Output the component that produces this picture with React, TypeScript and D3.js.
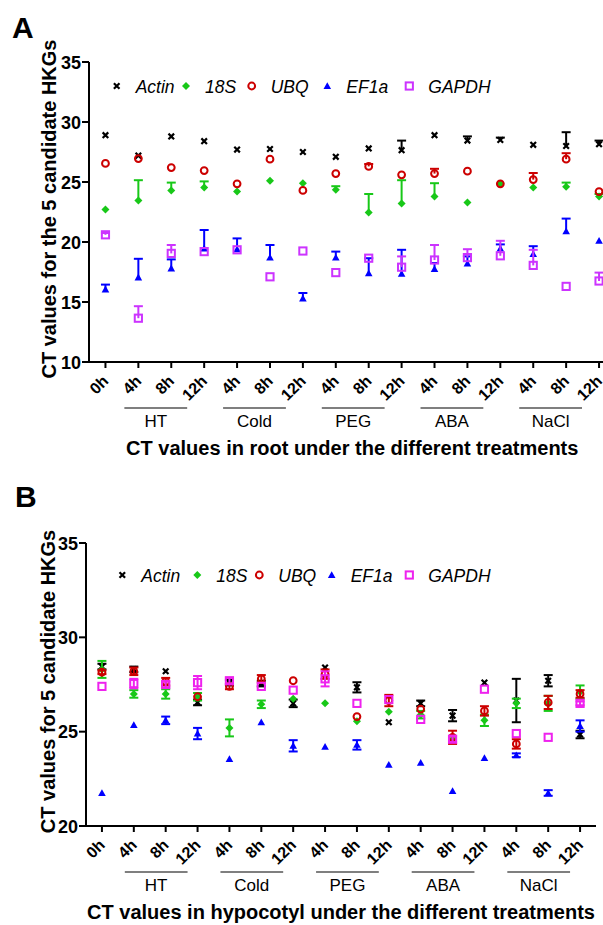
import { useEffect, useRef } from "react";
import * as d3 from "d3";

const TIME_LABELS = ["0h", "4h", "8h", "12h", "4h", "8h", "12h", "4h", "8h", "12h", "4h", "8h", "12h", "4h", "8h", "12h"];
const TREATMENTS = ["HT", "Cold", "PEG", "ABA", "NaCl"];
const GENES = ["Actin", "18S", "UBQ", "EF1a", "GAPDH"];

// A: root
const ROOT_ACTIN = [28.9, 27.2, 28.8, 28.4, 27.7, 27.75, 27.5, 27.1, 27.8, 27.65, 28.9, 28.45, 28.5, 28.1, 28.0, 28.15];
const ROOT_ACTIN_SD = [0, 0, 0, 0, 0, 0, 0, 0, 0, 0.8, 0, 0.35, 0.2, 0, 1.15, 0.3];
const ROOT_18S = [22.7, 23.45, 24.3, 24.55, 24.2, 25.1, 24.9, 24.35, 22.45, 23.2, 23.8, 23.3, 24.85, 24.55, 24.6, 23.8];
const ROOT_18S_SD = [0, 1.7, 0.65, 0.5, 0, 0, 0, 0.3, 1.55, 1.95, 1.1, 0, 0, 0, 0.35, 0.2];
const ROOT_UBQ = [26.55, 26.95, 26.2, 25.95, 24.85, 26.9, 24.3, 25.7, 26.3, 25.6, 25.7, 25.9, 24.85, 25.2, 26.9, 24.2];
const ROOT_UBQ_SD = [0, 0, 0, 0, 0, 0, 0, 0, 0.2, 0, 0.4, 0, 0, 0.55, 0.5, 0];
const ROOT_EF1A = [16.05, 17.05, 17.8, 19.45, 19.4, 18.7, 15.3, 18.7, 17.4, 17.35, 17.75, 18.2, 19.45, 19.0, 20.9, 20.1];
const ROOT_EF1A_SD = [0.4, 1.55, 0.75, 1.55, 0.9, 1.05, 0.45, 0.5, 1.25, 2.0, 0.5, 0.6, 0.35, 0.65, 1.05, 0];
const ROOT_GAPDH = [20.6, 13.65, 19.05, 19.2, 19.35, 17.1, 19.25, 17.45, 18.65, 17.9, 18.5, 18.7, 18.85, 18.05, 16.3, 16.75];
const ROOT_GAPDH_SD = [0.15, 1.0, 0.7, 0, 0, 0, 0, 0, 0, 0.9, 1.25, 0.7, 1.25, 1.3, 0, 0.7];

// B: hypocotyl
const HYP_ACTIN = [28.45, 28.3, 28.2, 26.55, 27.6, 27.55, 26.5, 28.4, 27.35, 25.5, 26.5, 25.85, 27.6, 26.65, 27.7, 24.85];
const HYP_ACTIN_SD = [0.15, 0.15, 0, 0.15, 0.15, 0.15, 0.2, 0, 0.27, 0, 0.15, 0.3, 0, 1.15, 0.3, 0.2];
const HYP_18S = [28.3, 27.0, 27.0, 26.85, 25.2, 26.45, 26.75, 26.5, 25.55, 26.05, 25.9, 24.6, 25.6, 26.5, 26.5, 27.1];
const HYP_18S_SD = [0.45, 0.2, 0.25, 0.2, 0.45, 0.2, 0, 0, 0, 0, 0.2, 0, 0.3, 0.25, 0.4, 0.35];
const HYP_UBQ = [28.15, 28.2, 27.65, 26.85, 27.4, 27.8, 27.7, 28.05, 25.8, 26.65, 26.2, 24.7, 26.1, 24.35, 26.55, 27.0];
const HYP_UBQ_SD = [0.1, 0.2, 0.2, 0, 0.15, 0.2, 0, 0.25, 0, 0.3, 0, 0.35, 0.25, 0.25, 0.35, 0.2];
const HYP_EF1A = [21.75, 25.35, 25.6, 24.9, 23.55, 25.5, 24.25, 24.2, 24.3, 23.25, 23.35, 21.85, 23.6, 23.75, 21.75, 25.3];
const HYP_EF1A_SD = [0, 0, 0.2, 0.3, 0, 0, 0.3, 0, 0.25, 0, 0, 0, 0, 0.1, 0.15, 0.3];
const HYP_GAPDH = [27.4, 27.55, 27.5, 27.6, 27.7, 27.4, 27.2, 27.8, 26.5, 26.7, 25.65, 24.6, 27.25, 24.9, 24.7, 26.5];
const HYP_GAPDH_SD = [0, 0.25, 0.15, 0.35, 0.15, 0, 0, 0.4, 0, 0, 0, 0.15, 0, 0, 0, 0.1];

const ROOT_TICKS = [10, 15, 20, 25, 30, 35];
const HYP_TICKS = [20, 25, 30, 35];

const FONT = "'Liberation Sans', Arial, Helvetica, sans-serif";

type Panel = {
  letter: string;
  letterX: number;
  letterY: number;
  series: { gene: string; mean: number[]; sd: number[] }[];
  yDomain: [number, number];
  yTicks: number[];
  xRange: [number, number];
  yRange: [number, number];
  errDir: "up" | "both";
  yTitle: string;
  yTitleX: number;
  xTitle: string;
  legendY: number;
  legendX: number[];
  lineOff: [number, number];
  magenta: string;
};

const PANELS: Panel[] = [
  {
    letter: "A", letterX: 12, letterY: 38,
    series: [
      { gene: "Actin", mean: ROOT_ACTIN, sd: ROOT_ACTIN_SD },
      { gene: "18S", mean: ROOT_18S, sd: ROOT_18S_SD },
      { gene: "UBQ", mean: ROOT_UBQ, sd: ROOT_UBQ_SD },
      { gene: "EF1a", mean: ROOT_EF1A, sd: ROOT_EF1A_SD },
      { gene: "GAPDH", mean: ROOT_GAPDH, sd: ROOT_GAPDH_SD },
    ],
    yDomain: [10, 35], yTicks: ROOT_TICKS,
    xRange: [89, 615.5], yRange: [362, 62],
    errDir: "up",
    yTitle: "CT values for the 5 candidate HKGs", yTitleX: 56,
    xTitle: "CT values in root under the different treatments",
    legendY: 86, legendX: [116.7, 186, 251.7, 327.3, 409.3],
    lineOff: [-14, -17],
    magenta: "#cc33ff",
  },
  {
    letter: "B", letterX: 15, letterY: 507,
    series: [
      { gene: "Actin", mean: HYP_ACTIN, sd: HYP_ACTIN_SD },
      { gene: "18S", mean: HYP_18S, sd: HYP_18S_SD },
      { gene: "UBQ", mean: HYP_UBQ, sd: HYP_UBQ_SD },
      { gene: "EF1a", mean: HYP_EF1A, sd: HYP_EF1A_SD },
      { gene: "GAPDH", mean: HYP_GAPDH, sd: HYP_GAPDH_SD },
    ],
    yDomain: [20, 35], yTicks: HYP_TICKS,
    xRange: [86, 596], yRange: [826, 543],
    errDir: "both",
    yTitle: "CT values for 5 candidate HKGs", yTitleX: 55,
    xTitle: "CT values in hypocotyl under the different treatments",
    legendY: 575, legendX: [122.3, 197.3, 259.3, 331.7, 409.3],
    lineOff: [-9, -10],
    magenta: "#ee22ee",
  },
];

const COLORS: Record<string, string> = {
  Actin: "#000000",
  "18S": "#18c818",
  UBQ: "#cc0000",
  EF1a: "#0000ff",
};

function drawMarker(g: d3.Selection<SVGGElement, unknown, null, undefined>, gene: string, x: number, y: number, magenta: string) {
  if (gene === "Actin") {
    g.append("path")
      .attr("d", `M${x - 2.8},${y - 2.8}L${x + 2.8},${y + 2.8}M${x - 2.8},${y + 2.8}L${x + 2.8},${y - 2.8}`)
      .attr("stroke", COLORS.Actin).attr("stroke-width", 2.2).attr("fill", "none");
  } else if (gene === "18S") {
    g.append("path")
      .attr("d", `M${x},${y - 4}L${x + 4},${y}L${x},${y + 4}L${x - 4},${y}Z`)
      .attr("fill", COLORS["18S"]);
  } else if (gene === "UBQ") {
    g.append("circle")
      .attr("cx", x).attr("cy", y).attr("r", 3.4)
      .attr("fill", "none").attr("stroke", COLORS.UBQ).attr("stroke-width", 2);
  } else if (gene === "EF1a") {
    g.append("path")
      .attr("d", `M${x},${y - 3.8}L${x + 3.8},${y + 3}L${x - 3.8},${y + 3}Z`)
      .attr("fill", COLORS.EF1a);
  } else {
    g.append("rect")
      .attr("x", x - 3.6).attr("y", y - 3.6).attr("width", 7.2).attr("height", 7.2)
      .attr("fill", "none").attr("stroke", magenta).attr("stroke-width", 2);
  }
}

function drawPanel(svgEl: SVGSVGElement, p: Panel) {
  const svg = d3.select(svgEl);
  const g = svg.append("g");

  const x = d3.scaleBand<number>().domain(d3.range(TIME_LABELS.length)).range(p.xRange);
  const cx = (i: number) => (x(i) ?? 0) + x.bandwidth() / 2;
  const y = d3.scaleLinear().domain(p.yDomain).range(p.yRange);
  const [x0, x1] = p.xRange;
  const yBottom = y(p.yDomain[0]);
  const yTop = y(p.yDomain[1]);

  // panel letter
  svg.append("text")
    .attr("x", p.letterX).attr("y", p.letterY)
    .attr("font-family", FONT).attr("font-size", 30).attr("font-weight", "bold")
    .text(p.letter);

  // axes
  g.append("line").attr("x1", x0).attr("x2", x0).attr("y1", yTop).attr("y2", yBottom + 1)
    .attr("stroke", "#000").attr("stroke-width", 2);
  g.append("line").attr("x1", x0 - 1).attr("x2", x1).attr("y1", yBottom).attr("y2", yBottom)
    .attr("stroke", "#000").attr("stroke-width", 2);

  p.yTicks.forEach((t) => {
    g.append("line").attr("x1", x0 - 7).attr("x2", x0).attr("y1", y(t)).attr("y2", y(t))
      .attr("stroke", "#000").attr("stroke-width", 2);
    g.append("text")
      .attr("x", x0 - 8).attr("y", y(t) + 6.5)
      .attr("text-anchor", "end")
      .attr("font-family", FONT).attr("font-size", 18).attr("font-weight", "bold")
      .text(t);
  });

  TIME_LABELS.forEach((lab, i) => {
    g.append("line").attr("x1", cx(i)).attr("x2", cx(i)).attr("y1", yBottom).attr("y2", yBottom + 6)
      .attr("stroke", "#000").attr("stroke-width", 2);
    g.append("text")
      .attr("transform", `translate(${cx(i) + 4},${yBottom + 20}) rotate(-45)`)
      .attr("text-anchor", "end")
      .attr("font-family", FONT).attr("font-size", 16).attr("font-weight", "bold")
      .text(lab);
  });

  // treatment groups
  TREATMENTS.forEach((tr, k) => {
    const a = cx(1 + k * 3) + p.lineOff[0];
    const b = cx(3 + k * 3) + p.lineOff[1];
    g.append("line").attr("x1", a).attr("x2", b).attr("y1", yBottom + 46).attr("y2", yBottom + 46)
      .attr("stroke", "#000").attr("stroke-width", 1.2);
    g.append("text")
      .attr("x", (a + b) / 2).attr("y", yBottom + 65)
      .attr("text-anchor", "middle")
      .attr("font-family", FONT).attr("font-size", 17)
      .text(tr);
  });

  // axis titles
  g.append("text")
    .attr("x", (x0 + x1) / 2).attr("y", yBottom + 93)
    .attr("text-anchor", "middle")
    .attr("font-family", FONT).attr("font-size", 20).attr("font-weight", "bold")
    .text(p.xTitle);
  g.append("text")
    .attr("transform", `translate(${p.yTitleX},${(yTop + yBottom) / 2 - 3}) rotate(-90)`)
    .attr("text-anchor", "middle")
    .attr("font-family", FONT).attr("font-size", 20).attr("font-weight", "bold")
    .text(p.yTitle);

  // data
  p.series.forEach((s) => {
    const color = s.gene === "GAPDH" ? p.magenta : COLORS[s.gene];
    s.mean.forEach((m, i) => {
      const sd = s.sd[i];
      if (sd > 0) {
        const hi = y(m + sd);
        const lo = p.errDir === "both" ? y(m - sd) : y(m);
        g.append("line").attr("x1", cx(i)).attr("x2", cx(i)).attr("y1", hi).attr("y2", lo)
          .attr("stroke", color).attr("stroke-width", 2);
        g.append("line").attr("x1", cx(i) - 4.5).attr("x2", cx(i) + 4.5).attr("y1", hi).attr("y2", hi)
          .attr("stroke", color).attr("stroke-width", 2);
        if (p.errDir === "both") {
          g.append("line").attr("x1", cx(i) - 4.5).attr("x2", cx(i) + 4.5).attr("y1", lo).attr("y2", lo)
            .attr("stroke", color).attr("stroke-width", 2);
        }
      }
    });
    s.mean.forEach((m, i) => drawMarker(g, s.gene, cx(i), y(m), p.magenta));
  });

  // legend
  GENES.forEach((gene, k) => {
    const lx = p.legendX[k];
    drawMarker(g, gene, lx, p.legendY, p.magenta);
    g.append("text")
      .attr("x", lx + 19).attr("y", p.legendY + 6.5)
      .attr("font-family", FONT).attr("font-size", 17.5).attr("font-style", "italic")
      .text(gene);
  });
}

export default function App() {
  const ref = useRef<SVGSVGElement>(null);

  useEffect(() => {
    const el = ref.current;
    if (!el) return;
    d3.select(el).selectAll("*").remove();
    PANELS.forEach((p) => drawPanel(el, p));
  }, []);

  return (
    <svg
      ref={ref}
      width={603}
      height={925}
      style={{ position: "absolute", left: 0, top: 0, display: "block", background: "#fff" }}
    />
  );
}
